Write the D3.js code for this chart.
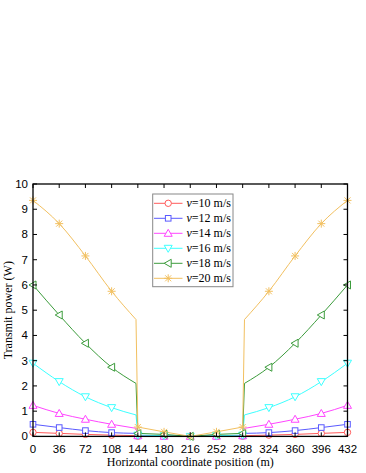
<!DOCTYPE html>
<html><head><meta charset="utf-8">
<script src="https://cdn.jsdelivr.net/npm/d3@7"></script>
<style>body{margin:0;background:#fff}svg{display:block}</style>
</head><body>
<svg id="c" width="366" height="473"></svg>
<script>
// x positions: marked points at multiples of 36, plus unmarked points just before/after the jumps
const xPos = [0, 36, 72, 108, 141.5, 144, 180, 216, 252, 288, 290.5, 324, 360, 396, 432];
const marked = [true, true, true, true, false, true, true, true, true, true, false, true, true, true, true];
const seriesNames = ["v=10 m/s", "v=12 m/s", "v=14 m/s", "v=16 m/s", "v=18 m/s", "v=20 m/s"];
const v10 = [0.16, 0.12, 0.08, 0.05, 0.03, 0.01, 0.0, 0.0, 0.0, 0.01, 0.03, 0.05, 0.08, 0.12, 0.16];
const v12 = [0.48, 0.35, 0.23, 0.15, 0.12, 0.02, 0.01, 0.0, 0.01, 0.02, 0.12, 0.15, 0.23, 0.35, 0.48];
const v14 = [1.23, 0.91, 0.68, 0.48, 0.32, 0.03, 0.01, 0.0, 0.01, 0.03, 0.32, 0.48, 0.68, 0.91, 1.23];
const v16 = [2.9, 2.17, 1.57, 1.14, 0.85, 0.05, 0.03, 0.0, 0.03, 0.05, 0.85, 1.14, 1.57, 2.17, 2.9];
const v18 = [6.0, 4.81, 3.69, 2.74, 2.1, 0.12, 0.08, 0.0, 0.08, 0.12, 2.1, 2.74, 3.69, 4.81, 6.0];
const v20 = [9.35, 8.43, 7.15, 5.75, 4.63, 0.37, 0.18, 0.0, 0.18, 0.37, 4.63, 5.75, 7.15, 8.43, 9.35];
const xTicks = [0, 36, 72, 108, 144, 180, 216, 252, 288, 324, 360, 396, 432];
const yTicks = [0, 1, 2, 3, 4, 5, 6, 7, 8, 9, 10];
const colors = ["#ff5a5a", "#5a5aff", "#ff45ff", "#3cffff", "#3c9c3c", "#f2c060"];
const symbols = ["circle", "square", "triUp", "triDown", "triLeft", "star"];
const allSeries = [v10, v12, v14, v16, v18, v20];

const svg = d3.select("#c");
const L = 33, R = 347.5, T = 184, B = 436.4;
const x = d3.scaleLinear().domain([0, 432]).range([L, R]);
const y = d3.scaleLinear().domain([0, 10]).range([B, T]);

function drawSymbol(g, type, cx, cy, color) {
  const s = g.append("g").attr("transform", `translate(${cx},${cy})`)
    .attr("fill", "#fff").attr("stroke", color).attr("stroke-width", 1);
  if (type === "circle") s.append("circle").attr("r", 3.2);
  else if (type === "square") s.append("rect").attr("x", -2.8).attr("y", -2.8).attr("width", 5.6).attr("height", 5.6);
  else if (type === "triUp") s.append("path").attr("d", "M0,-4L4,3L-4,3Z");
  else if (type === "triDown") s.append("path").attr("d", "M0,4L4,-3L-4,-3Z");
  else if (type === "triLeft") s.append("path").attr("d", "M-4,0L3,-4L3,4Z");
  else if (type === "star") s.append("path").attr("fill", "none")
    .attr("d", "M-4,0L4,0M0,-4L0,4M-3,-3L3,3M-3,3L3,-3");
}

const smooth = d3.line().x(d => x(d[0])).y(d => y(d[1])).curve(d3.curveMonotoneX);
const straight = d3.line().x(d => x(d[0])).y(d => y(d[1]));

allSeries.forEach((vals, i) => {
  const pts = xPos.map((xv, j) => [xv, vals[j]]);
  const segs = [[smooth, pts.slice(0, 5)], [straight, pts.slice(4, 11)], [smooth, pts.slice(10)]];
  segs.forEach(([gen, p]) => {
    svg.append("path").attr("d", gen(p)).attr("fill", "none")
      .attr("stroke", colors[i]).attr("stroke-width", 1).attr("stroke-linejoin", "round");
  });
});
allSeries.forEach((vals, i) => {
  xPos.forEach((xv, j) => {
    if (marked[j]) drawSymbol(svg, symbols[i], x(xv), y(vals[j]), colors[i]);
  });
});

// frame
svg.append("rect").attr("x", L).attr("y", T).attr("width", R - L).attr("height", B - T)
  .attr("fill", "none").attr("stroke", "#000").attr("stroke-width", 1.3);

// ticks
const tk = 4;
xTicks.forEach(t => {
  svg.append("line").attr("x1", x(t)).attr("x2", x(t)).attr("y1", B).attr("y2", B - tk).attr("stroke", "#000");
  svg.append("line").attr("x1", x(t)).attr("x2", x(t)).attr("y1", T).attr("y2", T + tk).attr("stroke", "#000");
  svg.append("text").attr("x", x(t)).attr("y", B + 16.5).attr("text-anchor", "middle")
    .attr("font-family", "Liberation Sans, Arial, sans-serif").attr("font-size", 11.5).text(t);
});
yTicks.forEach(t => {
  svg.append("line").attr("x1", L).attr("x2", L + tk).attr("y1", y(t)).attr("y2", y(t)).attr("stroke", "#000");
  svg.append("line").attr("x1", R).attr("x2", R - tk).attr("y1", y(t)).attr("y2", y(t)).attr("stroke", "#000");
  svg.append("text").attr("x", L - 5).attr("y", y(t) + 4).attr("text-anchor", "end")
    .attr("font-family", "Liberation Sans, Arial, sans-serif").attr("font-size", 11.5).text(t);
});

// axis titles
svg.append("text").attr("x", (L + R) / 2).attr("y", 466).attr("text-anchor", "middle")
  .attr("font-family", "Liberation Serif, Times New Roman, serif").attr("font-size", 12)
  .text("Horizontal coordinate position (m)");
svg.append("text").attr("transform", `translate(12,${(T + B) / 2}) rotate(-90)`).attr("text-anchor", "middle")
  .attr("font-family", "Liberation Serif, Times New Roman, serif").attr("font-size", 12)
  .text("Transmit power (W)");

// legend
const lg = svg.append("g");
lg.append("rect").attr("x", 152.7).attr("y", 194).attr("width", 80.3).attr("height", 92.7)
  .attr("fill", "#fff").attr("stroke", "#888").attr("stroke-width", 1);
seriesNames.forEach((n, i) => {
  const yy = 203.3 + i * 15;
  lg.append("line").attr("x1", 154).attr("x2", 182.5).attr("y1", yy).attr("y2", yy)
    .attr("stroke", colors[i]).attr("stroke-width", 1);
  drawSymbol(lg, symbols[i], 168.2, yy, colors[i]);
  const t = lg.append("text").attr("x", 186.5).attr("y", yy + 4)
    .attr("font-family", "Liberation Serif, Times New Roman, serif").attr("font-size", 12);
  t.append("tspan").attr("font-style", "italic").text("v");
  t.append("tspan").text(n.slice(1));
});
</script>
</body></html>
